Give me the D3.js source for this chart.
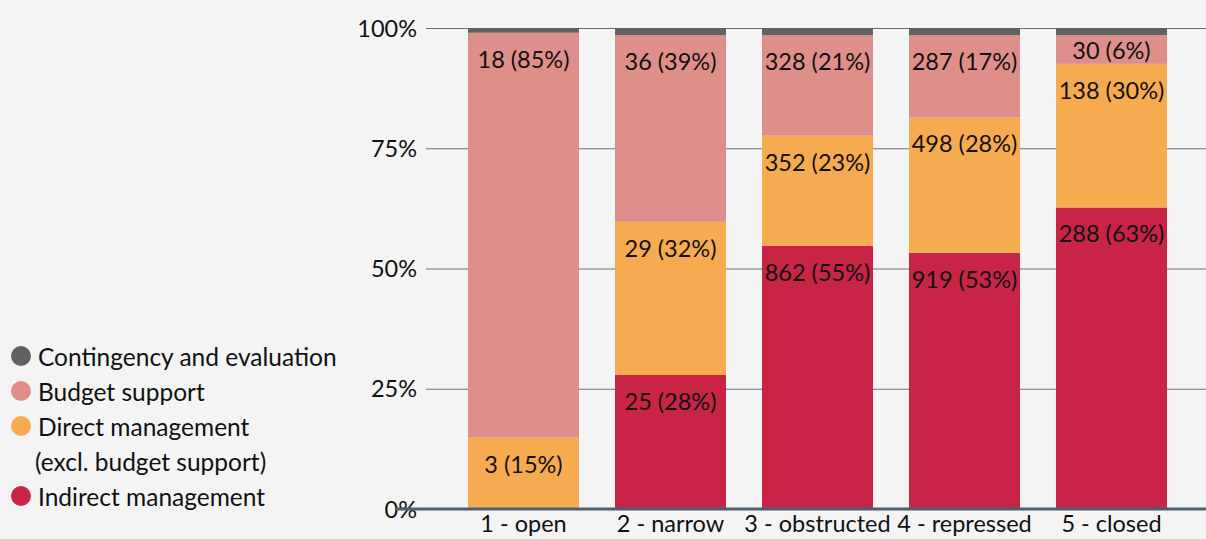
<!DOCTYPE html>
<html>
<head>
<meta charset="utf-8">
<script src="https://cdn.jsdelivr.net/npm/d3@7"></script>
<style>
  html, body { margin: 0; padding: 0; background: #f3f4f3; }
  svg { display: block; font-family: Lato, "Open Sans", sans-serif; }
</style>
</head>
<body>
<svg id="chart" width="1206" height="539"></svg>
<script>
// Civic space category of each country group
const categories = ["1 - open", "2 - narrow", "3 - obstructed", "4 - repressed", "5 - closed"];

// Amounts (EUR million) and share of the total, per delivery mode
const indirectAmount = [0, 25, 862, 919, 288];
const indirectShare  = [0, 28, 55, 53, 63];
const directAmount   = [3, 29, 352, 498, 138];
const directShare    = [15, 32, 23, 28, 30];
const budgetAmount   = [18, 36, 328, 287, 30];
const budgetShare    = [85, 39, 21, 17, 6];
// Contingency and evaluation (unlabelled, share in %)
const contingencyShare = [1, 1.5, 1.5, 1.5, 1.5];

const tickLabels = ["0%", "25%", "50%", "75%", "100%"];

const seriesKeys = ["indirect", "direct", "budget", "contingency"];
const seriesNames = {
  contingency: "Contingency and evaluation",
  budget: "Budget support",
  direct: "Direct management",
  indirect: "Indirect management"
};
const colors = {
  indirect: "#c72446",
  direct: "#f6ab50",
  budget: "#de8f8a",
  contingency: "#616163"
};

const FONT = "23.5px";

const rows = categories.map((c, i) => ({
  category: c,
  indirect: indirectShare[i],
  direct: directShare[i],
  budget: budgetShare[i],
  contingency: contingencyShare[i],
  labels: {
    indirect: indirectAmount[i] ? `${indirectAmount[i]} (${indirectShare[i]}%)` : null,
    direct: directAmount[i] ? `${directAmount[i]} (${directShare[i]}%)` : null,
    budget: budgetAmount[i] ? `${budgetAmount[i]} (${budgetShare[i]}%)` : null,
    contingency: null
  }
}));

const svg = d3.select("#chart");
const W = 1206;

const y = d3.scaleLinear().domain([0, 1]).range([509, 28]);
const x = d3.scaleBand()
  .domain(categories)
  .range([450, 1185])
  .paddingInner(0.245)
  .paddingOuter(0.1225);

// Gridlines and percentage labels
const gridLeft = 426;
const yAxis = svg.append("g")
  .attr("transform", `translate(${gridLeft},0)`)
  .call(d3.axisLeft(y)
    .tickValues([0, 0.25, 0.5, 0.75, 1])
    .tickFormat((d, i) => tickLabels[i])
    .tickSizeInner(-(W - gridLeft))
    .tickSizeOuter(0)
    .tickPadding(9));
yAxis.select(".domain").remove();
yAxis.selectAll(".tick line").attr("stroke", "#5d7382").attr("stroke-width", 1);
yAxis.selectAll(".tick text")
  .attr("fill", "#111")
  .attr("dy", "0.34em")
  .style("font-size", FONT)
  .style("font-family", "Lato, sans-serif");

// Stacked bars, normalised to 100%
const stack = d3.stack().keys(seriesKeys).offset(d3.stackOffsetExpand);
const layers = stack(rows);

const layerG = svg.append("g").selectAll("g")
  .data(layers)
  .join("g")
  .attr("fill", d => colors[d.key]);

layerG.selectAll("rect")
  .data(d => d.map(s => ({ s, key: d.key })))
  .join("rect")
  .attr("x", d => x(d.s.data.category))
  .attr("width", x.bandwidth())
  .attr("y", d => y(d.s[1]))
  .attr("height", d => y(d.s[0]) - y(d.s[1]));

// Value labels near the top of each segment
const labelData = [];
layers.forEach(layer => {
  layer.forEach(s => {
    const txt = s.data.labels[layer.key];
    if (!txt) return;
    const top = y(s[1]), bottom = y(s[0]);
    labelData.push({
      txt,
      cx: x(s.data.category) + x.bandwidth() / 2,
      cy: Math.min(top + 26, (top + bottom) / 2)
    });
  });
});
svg.append("g").selectAll("text")
  .data(labelData)
  .join("text")
  .attr("x", d => d.cx)
  .attr("y", d => d.cy)
  .attr("text-anchor", "middle")
  .attr("dominant-baseline", "central")
  .attr("fill", "#111")
  .style("font-size", FONT)
  .text(d => d.txt);

// Baseline
svg.append("line")
  .attr("x1", 396).attr("x2", W)
  .attr("y1", y(0)).attr("y2", y(0))
  .attr("stroke", "#4b6170")
  .attr("stroke-width", 3);

// Category axis
const xAxis = svg.append("g")
  .attr("transform", `translate(0,${y(0)})`)
  .call(d3.axisBottom(x).tickSize(0).tickPadding(6));
xAxis.select(".domain").remove();
xAxis.selectAll(".tick text")
  .attr("fill", "#111")
  .style("font-size", FONT)
  .style("font-family", "Lato, sans-serif");

// Legend
const legendItems = [
  { key: "contingency", lines: [seriesNames.contingency] },
  { key: "budget", lines: [seriesNames.budget] },
  { key: "direct", lines: [seriesNames.direct, "(excl. budget support)"] },
  { key: "indirect", lines: [seriesNames.indirect] }
];
const legend = svg.append("g");
let ly = 356;
legendItems.forEach(item => {
  legend.append("circle")
    .attr("cx", 21).attr("cy", ly)
    .attr("r", 10)
    .attr("fill", colors[item.key]);
  item.lines.forEach((line, j) => {
    legend.append("text")
      .attr("x", j === 0 ? 38 : 35)
      .attr("y", ly + j * 35)
      .attr("dominant-baseline", "central")
      .attr("fill", "#111")
      .style("font-size", "24.5px")
      .text(line);
  });
  ly += 35 * item.lines.length;
});
</script>
</body>
</html>
